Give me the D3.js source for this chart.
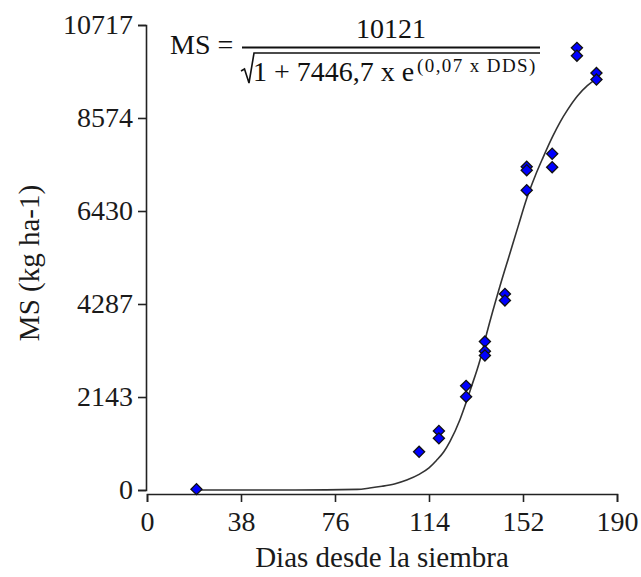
<!DOCTYPE html>
<html><head><meta charset="utf-8">
<script src="https://cdn.jsdelivr.net/npm/d3@7"></script>
<style>
html,body{margin:0;padding:0;background:#fff;}
</style></head>
<body><svg id="chart" width="641" height="577"></svg>
<script>
// Observed data points
const days = [20, 110, 118, 118, 129, 129, 136.6, 136.6, 136.6, 144.7, 144.7, 153.5, 153.5, 153.5, 163.8, 163.8, 173.8, 173.8, 181.7, 181.7];
const ms   = [20, 880, 1360, 1190, 2400, 2150, 3420, 3200, 3100, 4520, 4370, 7450, 7370, 6910, 7750, 7440, 10190, 10010, 9610, 9460];
// Fitted curve
const curveDays = [20, 60, 85, 90, 95, 100, 105, 110, 114, 117, 120, 122.5, 126.5, 129.2, 130.6, 134.6, 137.3, 142.7, 146.7, 150, 153.5, 157, 160, 164, 167, 170, 174, 178, 181.5];
const curveMS   = [0, 0, 15, 45, 85, 140, 230, 360, 510, 680, 880, 1120, 1620, 2050, 2290, 2990, 3600, 4700, 5450, 6070, 6720, 7250, 7650, 8150, 8480, 8760, 9080, 9320, 9470];
// Ticks
const xTicks = [0, 38, 76, 114, 152, 190];
const yTicks = [0, 2143, 4287, 6430, 8574, 10717];
const xTitle = "Dias desde la siembra";
const yTitle = "MS (kg ha-1)";

const FONT = "'Liberation Serif', 'Times New Roman', Times, serif";
const svg = d3.select("#chart");
const x = d3.scaleLinear().domain([0, 190]).range([147, 617]);
const y = d3.scaleLinear().domain([0, 10717]).range([490, 25]);

const axisColor = "#222";
const gx = svg.append("g").attr("transform", "translate(0,494)")
  .call(d3.axisBottom(x).tickValues(xTicks).tickFormat(d3.format("d")).tickSize(8).tickPadding(9));
const gy = svg.append("g").attr("transform", "translate(146,0)")
  .call(d3.axisLeft(y).tickValues(yTicks).tickFormat(d3.format("d")).tickSize(8).tickPadding(5));
[gx, gy].forEach(g => {
  g.attr("font-family", FONT).attr("font-size", 28);
  g.selectAll("path,line").attr("stroke", axisColor).attr("stroke-width", 1.6);
  g.selectAll("text").attr("font-size", 28).attr("font-family", FONT).attr("fill", "#1a1a1a");
});

// curve
const line = d3.line().x(d => x(d[0])).y(d => y(d[1])).curve(d3.curveMonotoneX);
svg.append("path").datum(curveDays.map((d, i) => [d, curveMS[i]]))
  .attr("d", line).attr("fill", "none").attr("stroke", "#333").attr("stroke-width", 1.6);

// points
const sym = d3.symbol().type(d3.symbolSquare).size(62);
svg.append("g").selectAll("path").data(days.map((d, i) => [d, ms[i]])).join("path")
  .attr("d", sym)
  .attr("transform", d => `translate(${x(d[0])},${y(d[1])}) rotate(45)`)
  .attr("fill", "#0000ff").attr("stroke", "#111").attr("stroke-width", 1.3);

// axis titles
svg.append("text").attr("x", 382).attr("y", 567).attr("text-anchor", "middle")
  .attr("font-family", FONT).attr("font-size", 29).attr("fill", "#1a1a1a").text(xTitle);
svg.append("text").attr("transform", "translate(39,263) rotate(-90)").attr("text-anchor", "middle")
  .attr("font-family", FONT).attr("font-size", 29).attr("fill", "#1a1a1a").text(yTitle);

// equation
const eq = svg.append("g").attr("font-family", FONT).attr("fill", "#111");
eq.append("text").attr("x", 170).attr("y", 54).attr("font-size", 28).text("MS =");
eq.append("text").attr("x", 391).attr("y", 38).attr("text-anchor", "middle").attr("font-size", 28).text("10121");
eq.append("line").attr("x1", 242).attr("x2", 540).attr("y1", 47.5).attr("y2", 47.5)
  .attr("stroke", "#111").attr("stroke-width", 2);
eq.append("path").attr("d", "M241,71 L244.5,69 L249,83 L254,53 L540,53")
  .attr("fill", "none").attr("stroke", "#111").attr("stroke-width", 1.6);
eq.append("text").attr("x", 253).attr("y", 81).attr("font-size", 28).text("1 + 7446,7 x e");
eq.append("text").attr("x", 417).attr("y", 72).attr("font-size", 19).attr("letter-spacing", 1.4).text("(0,07 x DDS)");
</script></body></html>
